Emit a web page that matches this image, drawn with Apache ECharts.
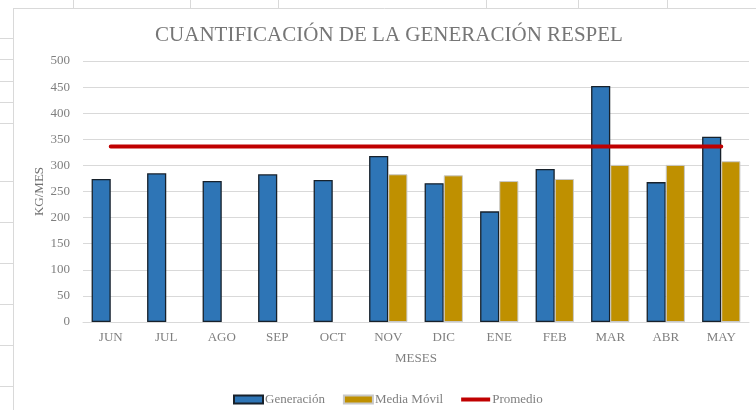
<!DOCTYPE html>
<html>
<head>
<meta charset="utf-8">
<script src="https://cdn.jsdelivr.net/npm/echarts@6/dist/echarts.min.js"></script>
<style>
  html, body { margin: 0; padding: 0; background: #fff; }
  #chart { width: 756px; height: 410px; }
</style>
</head>
<body>
<div id="chart"></div>
<script>
// datos
const meses = ['JUN', 'JUL', 'AGO', 'SEP', 'OCT', 'NOV', 'DIC', 'ENE', 'FEB', 'MAR', 'ABR', 'MAY'];
const generacion = [274, 285, 270, 283, 272, 318, 266, 212, 293, 452, 268, 355];
const mediaMovil = ['-', '-', '-', '-', '-', 283, 281, 270, 274, 301, 301, 308];
const promedio = [336, 336, 336, 336, 336, 336, 336, 336, 336, 336, 336, 336];

const serif = '"Liberation Serif", "DejaVu Serif", serif';
const gris = '#7f7f7f';
const borde = '#d9d9d9';

// marcas de la hoja de calculo alrededor del grafico
let hoja = [
  { type: 'line', shape: { x1: 13.5, y1: 8, x2: 13.5, y2: 410 }, style: { stroke: borde, lineWidth: 1 } },
  { type: 'line', shape: { x1: 13, y1: 8.5, x2: 756, y2: 8.5 }, style: { stroke: borde, lineWidth: 1 } }
];
[38, 59, 81, 102, 123, 181, 222, 263, 304, 345, 386].forEach(y => {
  hoja.push({ type: 'line', shape: { x1: 0, y1: y + 0.5, x2: 13, y2: y + 0.5 }, style: { stroke: borde, lineWidth: 1 } });
});
[73, 190, 278, 486, 578, 667].forEach(x => {
  hoja.push({ type: 'line', shape: { x1: x + 0.5, y1: 0, x2: x + 0.5, y2: 8 }, style: { stroke: borde, lineWidth: 1 } });
});

let chart = echarts.init(document.getElementById('chart'), null, { renderer: 'canvas' });

let option = {
  backgroundColor: '#fff',
  animation: false,
  graphic: hoja,
  title: {
    text: 'CUANTIFICACIÓN DE LA GENERACIÓN RESPEL',
    left: 384,
    textAlign: 'center',
    top: 20,
    textStyle: { fontFamily: serif, fontSize: 21, fontWeight: 'normal', color: '#767676' }
  },
  legend: {
    left: 228,
    top: 388,
    itemGap: 18,
    itemWidth: 29,
    itemHeight: 8,
    textStyle: { fontFamily: serif, fontSize: 13, color: '#7f7f7f', padding: [0, 0, 0, -3] },
    data: [
      { name: 'Generación', icon: 'rect' },
      { name: 'Media Móvil', icon: 'rect' },
      { name: 'Promedio', icon: 'path://M0,0 M0,8 M0,2 L29,2 L29,6 L0,6 Z' }
    ]
  },
  grid: { left: 83, right: 7, top: 61, bottom: 88 },
  xAxis: {
    type: 'category',
    data: meses,
    name: 'MESES',
    nameLocation: 'middle',
    nameGap: 30,
    nameTextStyle: { fontFamily: serif, fontSize: 13, color: gris },
    axisLine: { lineStyle: { color: borde } },
    axisTick: { show: false },
    axisLabel: { fontFamily: serif, fontSize: 13, color: gris, margin: 9 }
  },
  yAxis: {
    type: 'value',
    min: 0,
    max: 500,
    interval: 50,
    name: 'KG/MES',
    nameLocation: 'middle',
    nameGap: 37,
    nameMoveOverlap: false,
    nameTextStyle: { fontFamily: serif, fontSize: 13, color: '#6f6f6f' },
    axisLine: { show: false },
    axisTick: { show: false },
    axisLabel: { fontFamily: serif, fontSize: 13, color: gris, margin: 13 },
    splitLine: { lineStyle: { color: borde } }
  },
  series: [
    {
      name: 'Generación',
      type: 'bar',
      data: generacion,
      barGap: '0%',
      barCategoryGap: '31%',
      itemStyle: { color: '#2E75B6', borderColor: '#17212b', borderWidth: 1.3 }
    },
    {
      name: 'Media Móvil',
      type: 'bar',
      data: mediaMovil,
      itemStyle: { color: '#BF9000', borderColor: '#c8c8c8', borderWidth: 1 }
    },
    {
      name: 'Promedio',
      type: 'line',
      data: promedio,
      symbol: 'none',
      z: 5,
      itemStyle: { color: '#C00000' },
      lineStyle: { color: '#C00000', width: 4, cap: 'round' }
    }
  ]
};

chart.setOption(option);
</script>
</body>
</html>
